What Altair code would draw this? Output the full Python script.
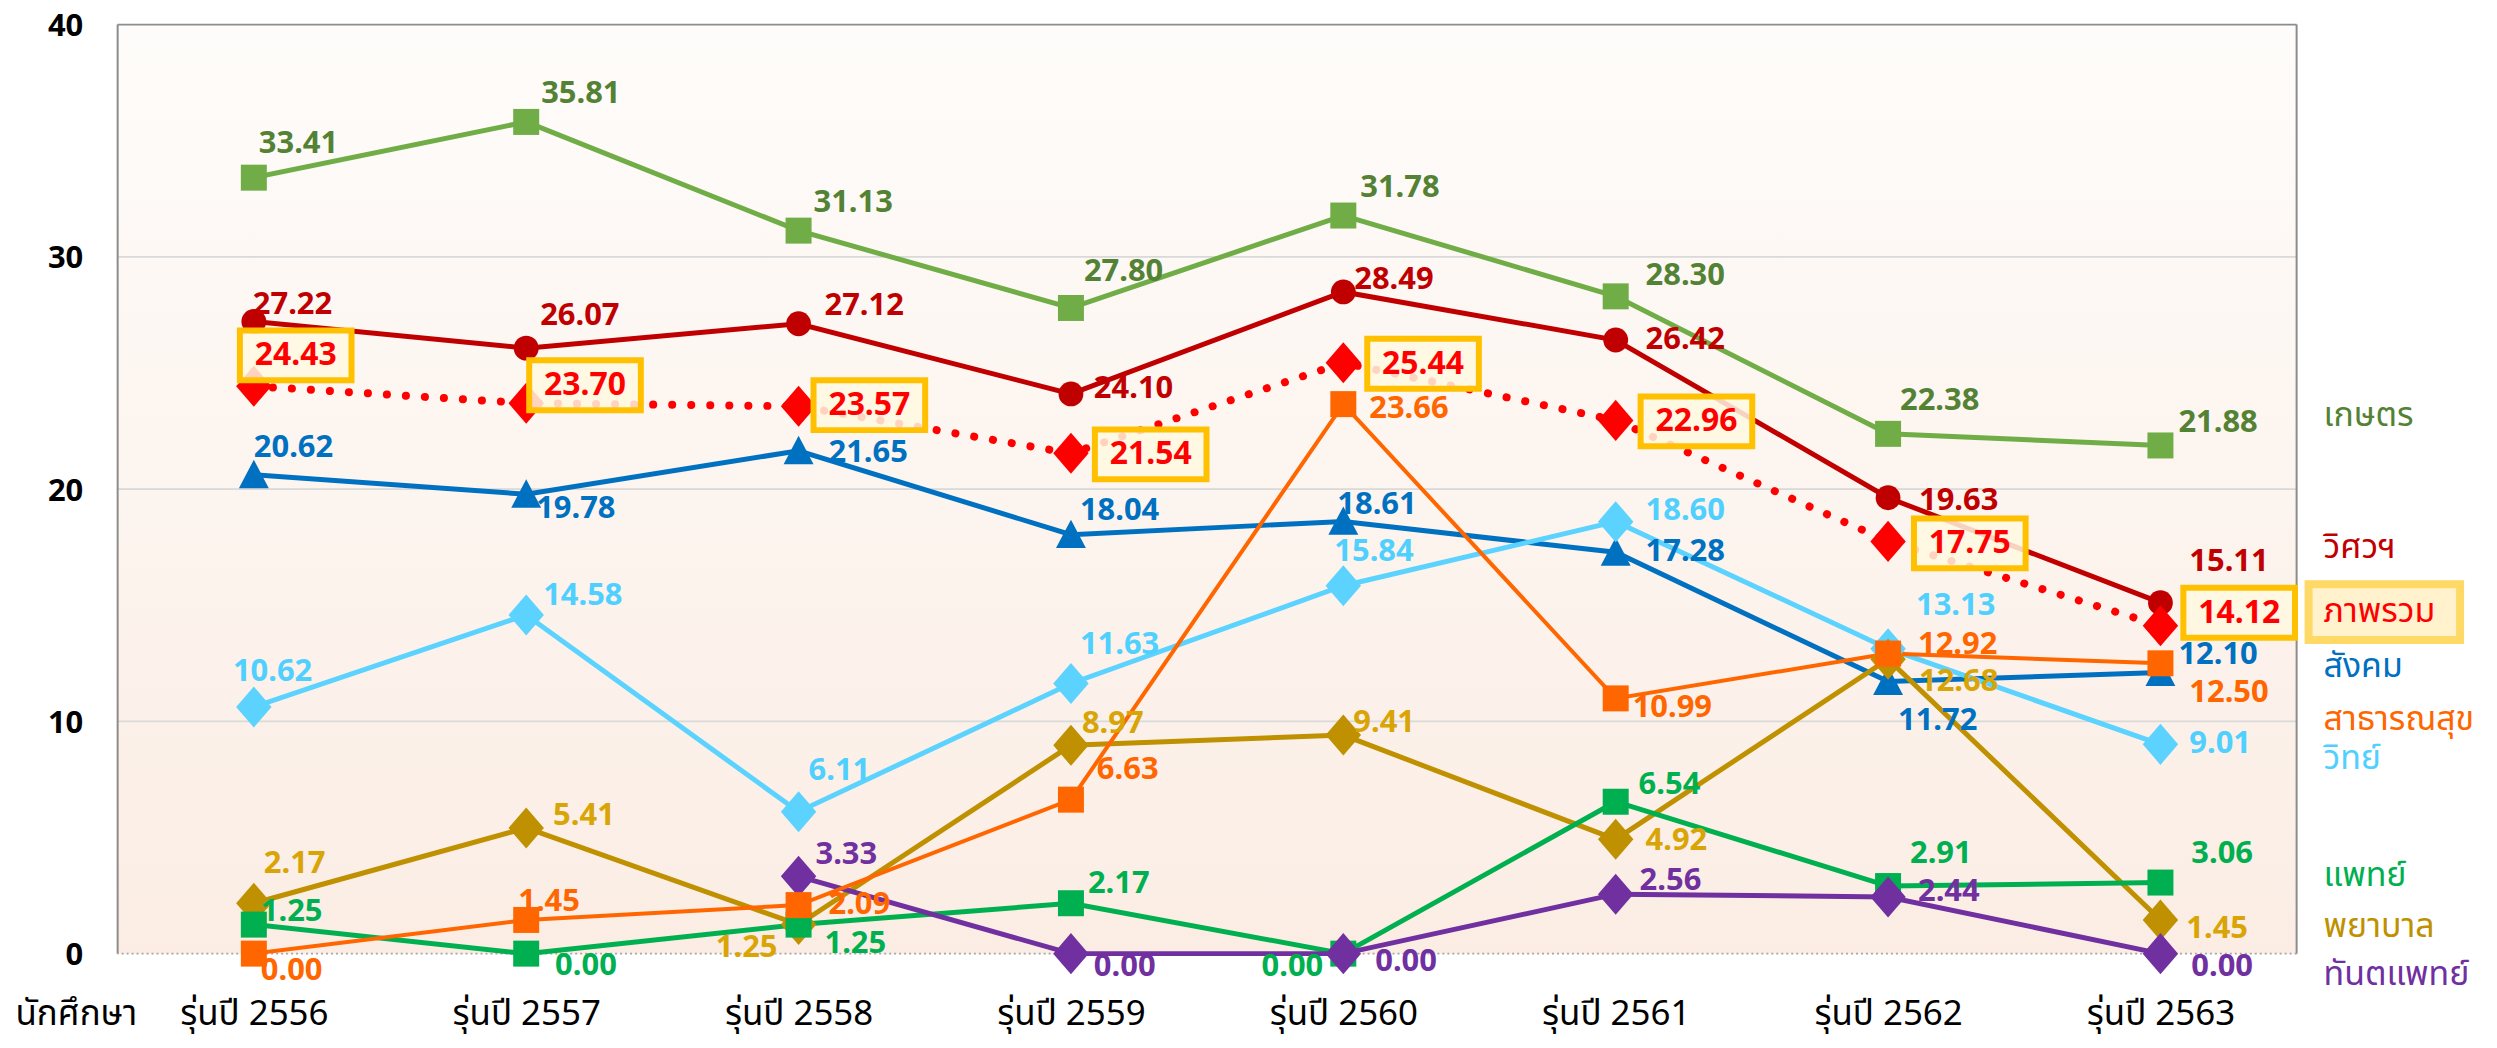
import json
import altair as alt
import pandas as pd

# ---------------- data ----------------
years = ["รุ่นปี 2556", "รุ่นปี 2557", "รุ่นปี 2558", "รุ่นปี 2559",
         "รุ่นปี 2560", "รุ่นปี 2561", "รุ่นปี 2562", "รุ่นปี 2563"]
names = ["เกษตร", "วิศวฯ", "ภาพรวม", "สังคม", "สาธารณสุข", "วิทย์", "แพทย์", "พยาบาล", "ทันตแพทย์"]

kaset = [33.41, 35.81, 31.13, 27.80, 31.78, 28.30, 22.38, 21.88]
witsawa = [27.22, 26.07, 27.12, 24.10, 28.49, 26.42, 19.63, 15.11]
phapruam = [24.43, 23.70, 23.57, 21.54, 25.44, 22.96, 17.75, 14.12]
sangkhom = [20.62, 19.78, 21.65, 18.04, 18.61, 17.28, 11.72, 12.10]
satharanasuk = [0.00, 1.45, 2.09, 6.63, 23.66, 10.99, 12.92, 12.50]
wit = [10.62, 14.58, 6.11, 11.63, 15.84, 18.60, 13.13, 9.01]
phaet = [1.25, 0.00, 1.25, 2.17, 0.00, 6.54, 2.91, 3.06]
phayaban = [2.17, 5.41, 1.25, 8.97, 9.41, 4.92, 12.68, 1.45]
thanta = [None, None, 3.33, 0.00, 0.00, 2.56, 2.44, 0.00]

series_values = [kaset, witsawa, phapruam, sangkhom, satharanasuk, wit, phaet, phayaban, thanta]

y_ticks = [0, 10, 20, 30, 40]
grid_values = [10, 20, 30]
x_title = "นักศึกษา"

# ---------------- styles (label offsets in px: left edge dx, centre dy) ----------------
line_colors = ["#70AD47", "#C00000", "#FF0000", "#0070C0", "#FF6600", "#5CD3FF", "#00B050", "#BF9000", "#7030A0"]
label_colors = ["#548235", "#C00000", "#FF0000", "#0070C0", "#FF6600", "#4FD0FF", "#00B050", "#D8A406", "#7030A0"]
legend_colors = ["#548235", "#C00000", "#FF0000", "#0070C0", "#FF6600", "#4FD0FF", "#00B050", "#BF9000", "#7030A0"]
legend_y = [23.15, 17.45, 14.70, 12.34, 10.07, 8.36, 3.34, 1.16, -0.94]

SQUARE = "square"
CIRCLE = "circle"
DIAMOND = "M0,-1.1L0.95,0L0,1.1L-0.95,0Z"
TRIANGLE = "M0,-1L1,0.9L-1,0.9Z"
shapes = [SQUARE, CIRCLE, DIAMOND, TRIANGLE, SQUARE, DIAMOND, SQUARE, DIAMOND, DIAMOND]
sizes = [680, 620, 1400, 900, 680, 1400, 680, 1400, 1400]
widths = [5, 5, 8, 5, 4, 5, 5, 5, 5]

label_offsets = [
    [(5, -34), (15, -28), (15, -28), (13, -36), (17, -28), (30, -20), (12, -33), (18, -23)],
    [(-1, -16), (14, -32), (26, -18), (23, -5), (11, -12), (30, 0), (31, 3), (29, -41)],
    [(42, -31), (59, -18), (71, -1), (80, 1), (80, 1), (81, 1), (82, 2), (79, -13)],   # box centres
    [(0, -27), (10, 15), (30, 2), (9, -24), (-6, -16), (30, 0), (10, 40), (18, -18)],
    [(7, 17), (-8, -18), (30, 0), (26, -30), (26, 5), (17, 10), (30, -9), (29, 30)],
    [(-21, -35), (17, -19), (10, -41), (9, -39), (-9, -34), (30, -11), (28, -43), (29, 0)],
    [(7, -13), (29, 12), (26, 19), (17, -19), (-82, 13), (23, -17), (22, -32), (31, -29)],
    [(10, -39), (27, -12), (-83, 24), (11, -21), (10, -12), (30, 2), (31, 23), (26, 9)],
    [None, None, (17, -21), (23, 13), (32, 8), (24, -13), (30, -5), (31, 13)],
]

W, H = 2186, 932
XS = W / 8.0
YS = H / 40.0
NUM_FONT = "Noto Sans"
THAI_FONT = "Noto Sans Thai, Noto Sans, DejaVu Sans, sans-serif"

x_scale = alt.Scale(domain=[-0.5, 7.5], nice=False, zero=False)
y_scale = alt.Scale(domain=[0, 40], nice=False, zero=False)

label_expr = json.dumps(years, ensure_ascii=False) + "[datum.value]"
x_axis = alt.Axis(values=list(range(8)), labelExpr=label_expr, grid=False, ticks=False, domain=False,
                  labelFont=THAI_FONT, labelFontSize=35, labelColor="#000000", labelPadding=60,
                  labelBaseline="middle", labelFlush=False, labelOverlap=False,
                  title=x_title, titleX=-42, titleY=60, titleFont=THAI_FONT, titleFontSize=35,
                  titleFontWeight="normal", titleColor="#000000", titleAlign="center",
                  titleBaseline="middle")
y_axis = alt.Axis(values=y_ticks, grid=False, ticks=False, domain=False, labelFont=NUM_FONT,
                  labelFontSize=31, labelFontWeight="bold", labelColor="#000000", labelPadding=35,
                  labelBaseline="alphabetic", labelOffset=11, labelFlush=False, title=None)

bg = alt.LinearGradient(gradient="linear", x1=0, x2=0, y1=0, y2=1,
                        stops=[alt.GradientStop(color="#FEFCFA", offset=0),
                               alt.GradientStop(color="#FBEDE4", offset=1)])

layers = []
frame_df = pd.DataFrame({"a": [0]})

# plot background
layers.append(alt.Chart(frame_df).mark_rect(fill=bg).encode(
    x=alt.X(datum=-0.5, scale=x_scale, axis=x_axis), x2=alt.datum(7.5),
    y=alt.Y(datum=0, scale=y_scale, axis=y_axis), y2=alt.datum(40)))

# grid and frame
grid_df = pd.DataFrame({"g": grid_values})
layers.append(alt.Chart(grid_df).mark_rule(color="#D9D9D9", strokeWidth=2).encode(
    y=alt.Y("g:Q", scale=y_scale)))
layers.append(alt.Chart(frame_df).mark_rule(color="#8C8C8C", strokeWidth=2).encode(y=alt.datum(40)))
layers.append(alt.Chart(frame_df).mark_rule(color="#8C8C8C", strokeWidth=2).encode(
    x=alt.datum(-0.5), y=alt.datum(0), y2=alt.datum(40)))
layers.append(alt.Chart(frame_df).mark_rule(color="#8C8C8C", strokeWidth=2).encode(
    x=alt.datum(7.5), y=alt.datum(0), y2=alt.datum(40)))
layers.append(alt.Chart(frame_df).mark_rule(color="#A6A6A6", strokeWidth=2, strokeDash=[2, 3]).encode(
    y=alt.datum(0)))

frames = []
for s, vals in enumerate(series_values):
    rows = []
    for i, v in enumerate(vals):
        if v is None:
            continue
        dx, dy = label_offsets[s][i]
        rows.append({"idx": i, "value": v, "label": f"{v:.2f}",
                     "lx": i + dx / XS, "ly": v - dy / YS,
                     "bx": i + (dx - 56) / XS, "bx2": i + (dx + 56) / XS,
                     "by": v - (dy - 25) / YS, "by2": v - (dy + 25) / YS})
    frames.append(pd.DataFrame(rows))

draw_order = [0, 1, 3, 5, 7, 6, 8, 4, 2]

for s in draw_order:
    df = frames[s]
    mk = dict(color=line_colors[s], strokeWidth=widths[s])
    if s == 2:
        mk.update(strokeDash=[0.1, 19], strokeCap="round")
    layers.append(alt.Chart(df).mark_line(**mk).encode(
        x=alt.X("idx:Q", scale=x_scale),
        y=alt.Y("value:Q", scale=y_scale)))

for s in draw_order:
    df = frames[s]
    layers.append(alt.Chart(df).mark_point(shape=shapes[s], size=sizes[s], filled=True, opacity=1,
                                           color=line_colors[s], strokeWidth=0).encode(
        x=alt.X("idx:Q", scale=x_scale), y=alt.Y("value:Q", scale=y_scale)))

# boxes for overall
layers.append(alt.Chart(frames[2]).mark_rect(fill="#FFF8E1", fillOpacity=0.85, stroke="#FFC000",
                                             strokeWidth=6).encode(
    x=alt.X("bx:Q", scale=x_scale), x2="bx2:Q", y=alt.Y("by:Q", scale=y_scale), y2="by2:Q"))

for s in draw_order:
    df = frames[s]
    if s == 2:
        txt = alt.Chart(df).mark_text(align="center", baseline="middle", font=NUM_FONT, fontSize=32,
                                      fontWeight="bold", color=label_colors[s])
    else:
        txt = alt.Chart(df).mark_text(align="left", baseline="middle", font=NUM_FONT, fontSize=31,
                                      fontWeight="bold", color=label_colors[s])
    layers.append(txt.encode(x=alt.X("lx:Q", scale=x_scale), y=alt.Y("ly:Q", scale=y_scale),
                             text="label:N"))

# legend at the right
leg_df = pd.DataFrame({"name": names, "ly": legend_y})
ov = legend_y[2]
layers.append(alt.Chart(frame_df).mark_rect(fill="#FFF2CC", stroke="#FFD966", strokeWidth=8).encode(
    x=alt.value(W + 12), x2=alt.value(W + 164),
    y=alt.datum(ov + 1.2), y2=alt.datum(ov - 1.2)))
layers.append(alt.Chart(leg_df).mark_text(align="left", baseline="middle", font=THAI_FONT,
                                          fontSize=34).encode(
    x=alt.value(W + 27), y=alt.Y("ly:Q", scale=y_scale),
    text="name:N",
    color=alt.Color("name:N", scale=alt.Scale(domain=names, range=legend_colors), legend=None)))

chart = alt.layer(*layers).properties(
    width=W, height=H,
    autosize=alt.AutoSizeParams(type="none"),
    padding={"left": 110, "top": 15, "right": 193, "bottom": 93},
    background="#FFFFFF",
).configure_view(stroke=None)

chart.save("out.html", embed_options={"renderer": "svg", "actions": False})
